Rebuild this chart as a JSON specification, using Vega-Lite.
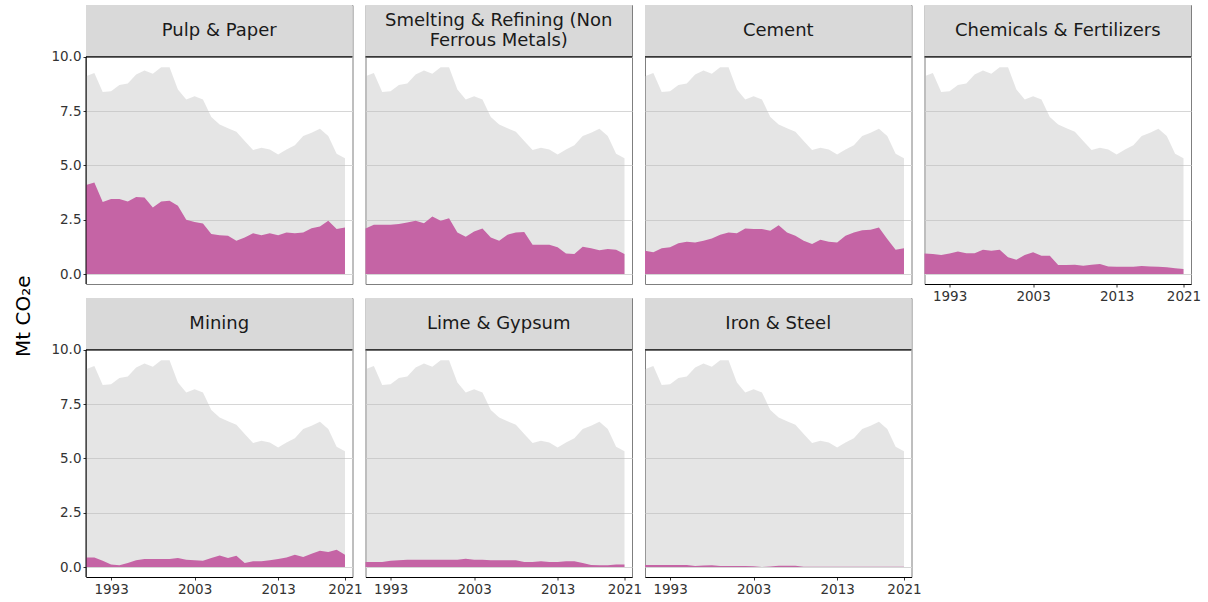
{
  "$schema": "https://vega.github.io/schema/vega-lite/v6.json",
  "background": "white",
  "padding": {"left": 14, "top": 4, "right": 5, "bottom": 5},
  "title": {"text": "Mt CO₂e", "orient": "left", "anchor": "middle", "fontSize": 20, "font": "DejaVu Sans", "fontWeight": "normal", "color": "black", "offset": 16, "dx": -16},
  "datasets": {
    "labels": [
      {"key": "pulp", "label": "Pulp & Paper"},
      {"key": "smelt", "label": "Smelting & Refining (Non\nFerrous Metals)"},
      {"key": "cement", "label": "Cement"},
      {"key": "chem", "label": "Chemicals & Fertilizers"},
      {"key": "mining", "label": "Mining"},
      {"key": "lime", "label": "Lime & Gypsum"},
      {"key": "iron", "label": "Iron & Steel"}
    ]
  },
  "data": {"values": [
    {"year": 1990, "total": 9.11, "pulp": 4.10, "smelt": 2.10, "cement": 1.07, "chem": 0.95, "mining": 0.44, "lime": 0.23, "iron": 0.09},
    {"year": 1991, "total": 9.26, "pulp": 4.21, "smelt": 2.27, "cement": 1.00, "chem": 0.92, "mining": 0.44, "lime": 0.23, "iron": 0.09},
    {"year": 1992, "total": 8.38, "pulp": 3.32, "smelt": 2.27, "cement": 1.19, "chem": 0.87, "mining": 0.29, "lime": 0.23, "iron": 0.09},
    {"year": 1993, "total": 8.42, "pulp": 3.45, "smelt": 2.27, "cement": 1.23, "chem": 0.95, "mining": 0.11, "lime": 0.29, "iron": 0.09},
    {"year": 1994, "total": 8.70, "pulp": 3.45, "smelt": 2.30, "cement": 1.42, "chem": 1.04, "mining": 0.08, "lime": 0.31, "iron": 0.09},
    {"year": 1995, "total": 8.77, "pulp": 3.34, "smelt": 2.37, "cement": 1.49, "chem": 0.96, "mining": 0.18, "lime": 0.34, "iron": 0.09},
    {"year": 1996, "total": 9.19, "pulp": 3.55, "smelt": 2.45, "cement": 1.45, "chem": 0.96, "mining": 0.31, "lime": 0.34, "iron": 0.05},
    {"year": 1997, "total": 9.37, "pulp": 3.52, "smelt": 2.34, "cement": 1.53, "chem": 1.12, "mining": 0.37, "lime": 0.34, "iron": 0.07},
    {"year": 1998, "total": 9.22, "pulp": 3.06, "smelt": 2.65, "cement": 1.64, "chem": 1.07, "mining": 0.37, "lime": 0.34, "iron": 0.08},
    {"year": 1999, "total": 9.52, "pulp": 3.34, "smelt": 2.45, "cement": 1.81, "chem": 1.12, "mining": 0.37, "lime": 0.34, "iron": 0.05},
    {"year": 2000, "total": 9.52, "pulp": 3.37, "smelt": 2.57, "cement": 1.91, "chem": 0.77, "mining": 0.37, "lime": 0.34, "iron": 0.05},
    {"year": 2001, "total": 8.50, "pulp": 3.14, "smelt": 1.91, "cement": 1.88, "chem": 0.66, "mining": 0.41, "lime": 0.34, "iron": 0.05},
    {"year": 2002, "total": 8.04, "pulp": 2.50, "smelt": 1.72, "cement": 2.10, "chem": 0.87, "mining": 0.34, "lime": 0.38, "iron": 0.05},
    {"year": 2003, "total": 8.19, "pulp": 2.40, "smelt": 1.96, "cement": 2.07, "chem": 1.00, "mining": 0.31, "lime": 0.34, "iron": 0.03},
    {"year": 2004, "total": 8.04, "pulp": 2.33, "smelt": 2.10, "cement": 2.07, "chem": 0.84, "mining": 0.29, "lime": 0.34, "iron": 0.00},
    {"year": 2005, "total": 7.23, "pulp": 1.84, "smelt": 1.68, "cement": 1.99, "chem": 0.84, "mining": 0.41, "lime": 0.31, "iron": 0.02},
    {"year": 2006, "total": 6.89, "pulp": 1.79, "smelt": 1.53, "cement": 2.25, "chem": 0.41, "mining": 0.53, "lime": 0.31, "iron": 0.06},
    {"year": 2007, "total": 6.71, "pulp": 1.76, "smelt": 1.81, "cement": 1.91, "chem": 0.41, "mining": 0.41, "lime": 0.31, "iron": 0.06},
    {"year": 2008, "total": 6.55, "pulp": 1.53, "smelt": 1.91, "cement": 1.76, "chem": 0.43, "mining": 0.52, "lime": 0.31, "iron": 0.06},
    {"year": 2009, "total": 6.13, "pulp": 1.68, "smelt": 1.94, "cement": 1.53, "chem": 0.38, "mining": 0.18, "lime": 0.23, "iron": 0.015},
    {"year": 2010, "total": 5.71, "pulp": 1.88, "smelt": 1.35, "cement": 1.38, "chem": 0.43, "mining": 0.26, "lime": 0.23, "iron": 0.015},
    {"year": 2011, "total": 5.82, "pulp": 1.79, "smelt": 1.35, "cement": 1.58, "chem": 0.46, "mining": 0.26, "lime": 0.26, "iron": 0.015},
    {"year": 2012, "total": 5.74, "pulp": 1.88, "smelt": 1.35, "cement": 1.49, "chem": 0.35, "mining": 0.31, "lime": 0.23, "iron": 0.015},
    {"year": 2013, "total": 5.51, "pulp": 1.79, "smelt": 1.23, "cement": 1.45, "chem": 0.34, "mining": 0.37, "lime": 0.23, "iron": 0.015},
    {"year": 2014, "total": 5.74, "pulp": 1.91, "smelt": 0.95, "cement": 1.76, "chem": 0.34, "mining": 0.44, "lime": 0.26, "iron": 0.015},
    {"year": 2015, "total": 5.93, "pulp": 1.88, "smelt": 0.92, "cement": 1.91, "chem": 0.34, "mining": 0.56, "lime": 0.26, "iron": 0.015},
    {"year": 2016, "total": 6.36, "pulp": 1.91, "smelt": 1.26, "cement": 2.02, "chem": 0.37, "mining": 0.46, "lime": 0.18, "iron": 0.015},
    {"year": 2017, "total": 6.51, "pulp": 2.11, "smelt": 1.19, "cement": 2.04, "chem": 0.35, "mining": 0.61, "lime": 0.09, "iron": 0.015},
    {"year": 2018, "total": 6.69, "pulp": 2.19, "smelt": 1.10, "cement": 2.14, "chem": 0.34, "mining": 0.75, "lime": 0.08, "iron": 0.015},
    {"year": 2019, "total": 6.36, "pulp": 2.45, "smelt": 1.15, "cement": 1.61, "chem": 0.31, "mining": 0.69, "lime": 0.08, "iron": 0.015},
    {"year": 2020, "total": 5.54, "pulp": 2.07, "smelt": 1.12, "cement": 1.12, "chem": 0.26, "mining": 0.79, "lime": 0.11, "iron": 0.015},
    {"year": 2021, "total": 5.33, "pulp": 2.14, "smelt": 0.92, "cement": 1.19, "chem": 0.23, "mining": 0.56, "lime": 0.11, "iron": 0.015}
  ]},
  "transform": [
    {"fold": ["pulp", "smelt", "cement", "chem", "mining", "lime", "iron"], "as": ["key", "v"]},
    {"lookup": "key", "from": {"data": {"name": "labels"}, "key": "key", "fields": ["label"]}}
  ],
  "spacing": 0.5,
  "hconcat": [
    {
      "spacing": 12,
      "vconcat": [
        {
          "transform": [{"filter": {"field": "key", "equal": "pulp"}}],
          "width": 266.5, "height": 279,
          "layer": [
            {"mark": {"type": "area", "color": "#bfbfbf", "opacity": 0.4},
             "encoding": {
               "x": {"field": "year", "type": "quantitative", "title": null, "scale": {"domain": [1990, 2021.9], "nice": false, "zero": false}, "axis": null},
               "y": {"field": "total", "type": "quantitative", "title": null, "scale": {"domain": [-0.46, 12.39], "nice": false, "zero": false},
                     "axis": {"values": [0, 2.5, 5, 7.5, 10], "format": ".1f", "grid": true, "domain": false}}}},
            {"mark": {"type": "area", "color": "#c564a5"},
             "encoding": {"x": {"field": "year", "type": "quantitative"}, "y": {"field": "v", "type": "quantitative"}}},
            {"transform": [{"filter": {"field": "year", "equal": 1990}}],
             "mark": {"type": "rect", "color": "#d9d9d9"},
             "encoding": {"x": {"datum": 1990}, "x2": {"datum": 2021.9}, "y": {"datum": 10}, "y2": {"datum": 12.39}}},
            {"transform": [{"filter": {"field": "year", "equal": 1990}}],
             "mark": {"type": "rule", "color": "black", "strokeWidth": 1.2},
             "encoding": {"x": {"datum": 1990}, "x2": {"datum": 2021.9}, "y": {"datum": 10}}},
            {"transform": [{"filter": {"field": "year", "equal": 1990}}],
             "mark": {"type": "rule", "color": "black", "strokeWidth": 1},
             "encoding": {"x": {"datum": 1990}, "y": {"datum": -0.46}, "y2": {"datum": 10}}},
            {"transform": [{"filter": {"field": "year", "equal": 1990}}],
             "mark": {"type": "text", "font": "DejaVu Sans", "fontSize": 18, "color": "#1a1a1a", "lineBreak": "\n", "lineHeight": 20, "align": "center", "baseline": "middle"},
             "encoding": {"x": {"datum": 2005.95}, "y": {"datum": 11.18}, "text": {"field": "label"}}}
          ]
        },
        {
          "transform": [{"filter": {"field": "key", "equal": "mining"}}],
          "width": 266.5, "height": 279,
          "layer": [
            {"mark": {"type": "area", "color": "#bfbfbf", "opacity": 0.4},
             "encoding": {
               "x": {"field": "year", "type": "quantitative", "title": null, "scale": {"domain": [1990, 2021.9], "nice": false, "zero": false},
                     "axis": {"values": [1993, 2003, 2013, 2021], "format": "d", "grid": false, "labelFlush": false}},
               "y": {"field": "total", "type": "quantitative", "title": null, "scale": {"domain": [-0.46, 12.39], "nice": false, "zero": false},
                     "axis": {"values": [0, 2.5, 5, 7.5, 10], "format": ".1f", "grid": true, "domain": false}}}},
            {"mark": {"type": "area", "color": "#c564a5"},
             "encoding": {"x": {"field": "year", "type": "quantitative"}, "y": {"field": "v", "type": "quantitative"}}},
            {"transform": [{"filter": {"field": "year", "equal": 1990}}],
             "mark": {"type": "rect", "color": "#d9d9d9"},
             "encoding": {"x": {"datum": 1990}, "x2": {"datum": 2021.9}, "y": {"datum": 10}, "y2": {"datum": 12.39}}},
            {"transform": [{"filter": {"field": "year", "equal": 1990}}],
             "mark": {"type": "rule", "color": "black", "strokeWidth": 1.2},
             "encoding": {"x": {"datum": 1990}, "x2": {"datum": 2021.9}, "y": {"datum": 10}}},
            {"transform": [{"filter": {"field": "year", "equal": 1990}}],
             "mark": {"type": "rule", "color": "black", "strokeWidth": 1},
             "encoding": {"x": {"datum": 1990}, "y": {"datum": -0.46}, "y2": {"datum": 10}}},
            {"transform": [{"filter": {"field": "year", "equal": 1990}}],
             "mark": {"type": "text", "font": "DejaVu Sans", "fontSize": 18, "color": "#1a1a1a", "lineBreak": "\n", "lineHeight": 20, "align": "center", "baseline": "middle"},
             "encoding": {"x": {"datum": 2005.95}, "y": {"datum": 11.18}, "text": {"field": "label"}}}
          ]
        }
      ]
    },
    {
      "spacing": 12,
      "vconcat": [
        {
          "transform": [{"filter": {"field": "key", "equal": "smelt"}}],
          "width": 266.5, "height": 279,
          "layer": [
            {"mark": {"type": "area", "color": "#bfbfbf", "opacity": 0.4},
             "encoding": {
               "x": {"field": "year", "type": "quantitative", "title": null, "scale": {"domain": [1990, 2021.9], "nice": false, "zero": false}, "axis": null},
               "y": {"field": "total", "type": "quantitative", "title": null, "scale": {"domain": [-0.46, 12.39], "nice": false, "zero": false},
                     "axis": {"values": [0, 2.5, 5, 7.5, 10], "grid": true, "domain": false, "labels": false, "ticks": false}}}},
            {"mark": {"type": "area", "color": "#c564a5"},
             "encoding": {"x": {"field": "year", "type": "quantitative"}, "y": {"field": "v", "type": "quantitative"}}},
            {"transform": [{"filter": {"field": "year", "equal": 1990}}],
             "mark": {"type": "rect", "color": "#d9d9d9"},
             "encoding": {"x": {"datum": 1990}, "x2": {"datum": 2021.9}, "y": {"datum": 10}, "y2": {"datum": 12.39}}},
            {"transform": [{"filter": {"field": "year", "equal": 1990}}],
             "mark": {"type": "rule", "color": "black", "strokeWidth": 1.2},
             "encoding": {"x": {"datum": 1990}, "x2": {"datum": 2021.9}, "y": {"datum": 10}}},
            {"transform": [{"filter": {"field": "year", "equal": 1990}}],
             "mark": {"type": "text", "font": "DejaVu Sans", "fontSize": 18, "color": "#1a1a1a", "lineBreak": "\n", "lineHeight": 20, "align": "center", "baseline": "middle"},
             "encoding": {"x": {"datum": 2005.95}, "y": {"datum": 11.64}, "text": {"field": "label"}}}
          ]
        },
        {
          "transform": [{"filter": {"field": "key", "equal": "lime"}}],
          "width": 266.5, "height": 279,
          "layer": [
            {"mark": {"type": "area", "color": "#bfbfbf", "opacity": 0.4},
             "encoding": {
               "x": {"field": "year", "type": "quantitative", "title": null, "scale": {"domain": [1990, 2021.9], "nice": false, "zero": false},
                     "axis": {"values": [1993, 2003, 2013, 2021], "format": "d", "grid": false, "labelFlush": false}},
               "y": {"field": "total", "type": "quantitative", "title": null, "scale": {"domain": [-0.46, 12.39], "nice": false, "zero": false},
                     "axis": {"values": [0, 2.5, 5, 7.5, 10], "grid": true, "domain": false, "labels": false, "ticks": false}}}},
            {"mark": {"type": "area", "color": "#c564a5"},
             "encoding": {"x": {"field": "year", "type": "quantitative"}, "y": {"field": "v", "type": "quantitative"}}},
            {"transform": [{"filter": {"field": "year", "equal": 1990}}],
             "mark": {"type": "rect", "color": "#d9d9d9"},
             "encoding": {"x": {"datum": 1990}, "x2": {"datum": 2021.9}, "y": {"datum": 10}, "y2": {"datum": 12.39}}},
            {"transform": [{"filter": {"field": "year", "equal": 1990}}],
             "mark": {"type": "rule", "color": "black", "strokeWidth": 1.2},
             "encoding": {"x": {"datum": 1990}, "x2": {"datum": 2021.9}, "y": {"datum": 10}}},
            {"transform": [{"filter": {"field": "year", "equal": 1990}}],
             "mark": {"type": "text", "font": "DejaVu Sans", "fontSize": 18, "color": "#1a1a1a", "lineBreak": "\n", "lineHeight": 20, "align": "center", "baseline": "middle"},
             "encoding": {"x": {"datum": 2005.95}, "y": {"datum": 11.18}, "text": {"field": "label"}}}
          ]
        }
      ]
    },
    {
      "spacing": 12,
      "vconcat": [
        {
          "transform": [{"filter": {"field": "key", "equal": "cement"}}],
          "width": 266.5, "height": 279,
          "layer": [
            {"mark": {"type": "area", "color": "#bfbfbf", "opacity": 0.4},
             "encoding": {
               "x": {"field": "year", "type": "quantitative", "title": null, "scale": {"domain": [1990, 2021.9], "nice": false, "zero": false}, "axis": null},
               "y": {"field": "total", "type": "quantitative", "title": null, "scale": {"domain": [-0.46, 12.39], "nice": false, "zero": false},
                     "axis": {"values": [0, 2.5, 5, 7.5, 10], "grid": true, "domain": false, "labels": false, "ticks": false}}}},
            {"mark": {"type": "area", "color": "#c564a5"},
             "encoding": {"x": {"field": "year", "type": "quantitative"}, "y": {"field": "v", "type": "quantitative"}}},
            {"transform": [{"filter": {"field": "year", "equal": 1990}}],
             "mark": {"type": "rect", "color": "#d9d9d9"},
             "encoding": {"x": {"datum": 1990}, "x2": {"datum": 2021.9}, "y": {"datum": 10}, "y2": {"datum": 12.39}}},
            {"transform": [{"filter": {"field": "year", "equal": 1990}}],
             "mark": {"type": "rule", "color": "black", "strokeWidth": 1.2},
             "encoding": {"x": {"datum": 1990}, "x2": {"datum": 2021.9}, "y": {"datum": 10}}},
            {"transform": [{"filter": {"field": "year", "equal": 1990}}],
             "mark": {"type": "text", "font": "DejaVu Sans", "fontSize": 18, "color": "#1a1a1a", "lineBreak": "\n", "lineHeight": 20, "align": "center", "baseline": "middle"},
             "encoding": {"x": {"datum": 2005.95}, "y": {"datum": 11.18}, "text": {"field": "label"}}}
          ]
        },
        {
          "transform": [{"filter": {"field": "key", "equal": "iron"}}],
          "width": 266.5, "height": 279,
          "layer": [
            {"mark": {"type": "area", "color": "#bfbfbf", "opacity": 0.4},
             "encoding": {
               "x": {"field": "year", "type": "quantitative", "title": null, "scale": {"domain": [1990, 2021.9], "nice": false, "zero": false},
                     "axis": {"values": [1993, 2003, 2013, 2021], "format": "d", "grid": false, "labelFlush": false}},
               "y": {"field": "total", "type": "quantitative", "title": null, "scale": {"domain": [-0.46, 12.39], "nice": false, "zero": false},
                     "axis": {"values": [0, 2.5, 5, 7.5, 10], "grid": true, "domain": false, "labels": false, "ticks": false}}}},
            {"mark": {"type": "area", "color": "#c564a5"},
             "encoding": {"x": {"field": "year", "type": "quantitative"}, "y": {"field": "v", "type": "quantitative"}}},
            {"transform": [{"filter": {"field": "year", "equal": 1990}}],
             "mark": {"type": "rect", "color": "#d9d9d9"},
             "encoding": {"x": {"datum": 1990}, "x2": {"datum": 2021.9}, "y": {"datum": 10}, "y2": {"datum": 12.39}}},
            {"transform": [{"filter": {"field": "year", "equal": 1990}}],
             "mark": {"type": "rule", "color": "black", "strokeWidth": 1.2},
             "encoding": {"x": {"datum": 1990}, "x2": {"datum": 2021.9}, "y": {"datum": 10}}},
            {"transform": [{"filter": {"field": "year", "equal": 1990}}],
             "mark": {"type": "text", "font": "DejaVu Sans", "fontSize": 18, "color": "#1a1a1a", "lineBreak": "\n", "lineHeight": 20, "align": "center", "baseline": "middle"},
             "encoding": {"x": {"datum": 2005.95}, "y": {"datum": 11.18}, "text": {"field": "label"}}}
          ]
        }
      ]
    },
    {
      "transform": [{"filter": {"field": "key", "equal": "chem"}}],
      "width": 266.5, "height": 279,
      "layer": [
        {"mark": {"type": "area", "color": "#bfbfbf", "opacity": 0.4},
         "encoding": {
           "x": {"field": "year", "type": "quantitative", "title": null, "scale": {"domain": [1990, 2021.9], "nice": false, "zero": false},
                 "axis": {"values": [1993, 2003, 2013, 2021], "format": "d", "grid": false, "labelFlush": false}},
           "y": {"field": "total", "type": "quantitative", "title": null, "scale": {"domain": [-0.46, 12.39], "nice": false, "zero": false},
                 "axis": {"values": [0, 2.5, 5, 7.5, 10], "grid": true, "domain": false, "labels": false, "ticks": false}}}},
        {"mark": {"type": "area", "color": "#c564a5"},
         "encoding": {"x": {"field": "year", "type": "quantitative"}, "y": {"field": "v", "type": "quantitative"}}},
        {"transform": [{"filter": {"field": "year", "equal": 1990}}],
         "mark": {"type": "rect", "color": "#d9d9d9"},
         "encoding": {"x": {"datum": 1990}, "x2": {"datum": 2021.9}, "y": {"datum": 10}, "y2": {"datum": 12.39}}},
        {"transform": [{"filter": {"field": "year", "equal": 1990}}],
         "mark": {"type": "rule", "color": "black", "strokeWidth": 1.2},
         "encoding": {"x": {"datum": 1990}, "x2": {"datum": 2021.9}, "y": {"datum": 10}}},
        {"transform": [{"filter": {"field": "year", "equal": 1990}}],
         "mark": {"type": "text", "font": "DejaVu Sans", "fontSize": 18, "color": "#1a1a1a", "lineBreak": "\n", "lineHeight": 20, "align": "center", "baseline": "middle"},
         "encoding": {"x": {"datum": 2005.95}, "y": {"datum": 11.18}, "text": {"field": "label"}}}
      ]
    }
  ],
  "config": {
    "view": {"stroke": "#7f7f7f", "strokeWidth": 1},
    "font": "DejaVu Sans",
    "axis": {"title": null, "labelFont": "DejaVu Sans", "labelFontSize": 13.5, "labelColor": "#333333", "tickColor": "#333333", "tickSize": 3, "labelPadding": 2, "domainColor": "black", "gridColor": "#d6d6d6", "gridWidth": 1}
  }
}
